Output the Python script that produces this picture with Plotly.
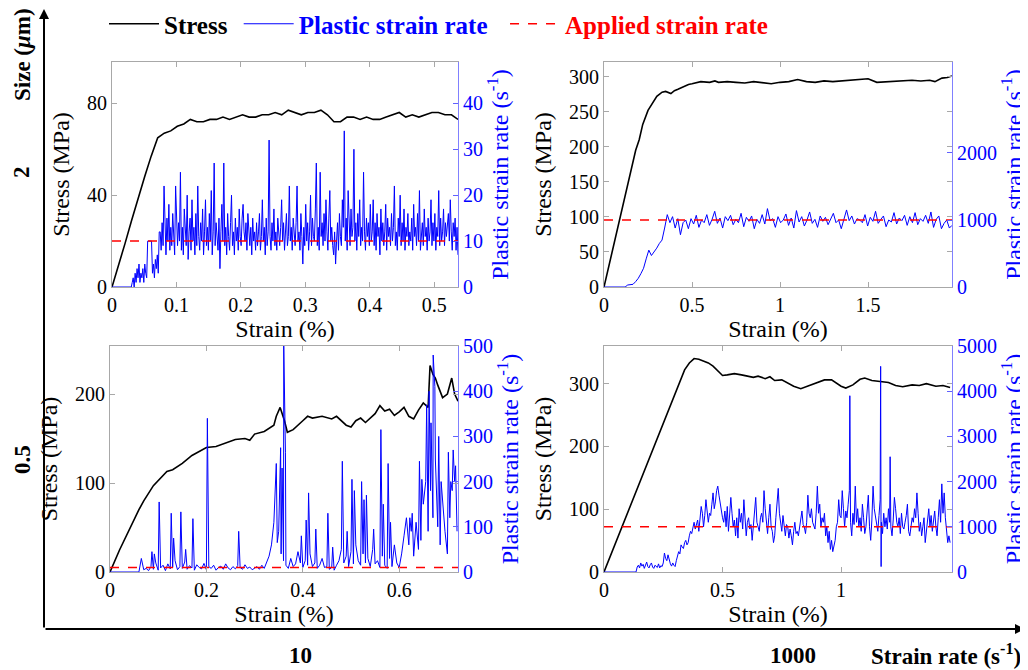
import numpy as np
import plotly.graph_objects as go

# ---------------- data ----------------
applied_rates = [10, 1000]          # s^-1 : left column, right column

# Top-left: size 2 um, 10 s^-1
tl_stress = [0, 9, 19, 29, 39, 48, 57, 65, 67, 68, 70, 71, 73, 72, 72, 73, 73, 74, 73, 74,
             75, 74, 74, 75, 75, 76, 75, 77, 76, 75, 76, 76, 77, 75, 72, 72, 74, 74, 73, 74,
             73, 73, 74, 75, 76, 74, 75, 74, 75, 76, 76, 75, 75, 73]
tl_rate = [0] * 21 + [
    1, 2, 0, 3, 1, 4, 2, 5, 1, 3, 2, 4, 1, 5, 3, 2, 10, 10, 10, 10, 10, 3, 5, 2, 6, 4, 7, 3, 12,
    12, 8, 14, 9, 22, 11, 7, 15, 10, 18, 8, 13, 9, 16, 11, 7, 22, 12, 9, 14,
    10, 25, 8, 13, 7, 17, 11, 9, 20, 6, 12, 15, 8, 19, 10, 13, 7, 16, 9, 22,
    11, 8, 14, 10, 17, 7, 12, 19, 9, 13, 8, 16, 10, 21, 7, 12, 27, 9, 14, 11,
    8, 15, 4, 12, 18, 10, 27, 9, 13, 7, 16, 11, 8, 14, 20, 9, 12, 7, 15, 10,
    13, 8, 17, 11, 9, 15, 18, 12, 10, 14, 8, 16, 11, 9, 13, 7, 15, 10, 12, 8,
    14, 9, 12, 16, 8, 11, 19, 10, 13, 7, 15, 9, 12, 32, 11, 8, 14, 10, 17, 9,
    12, 8, 15, 11, 9, 13, 19, 10, 14, 8, 12, 16, 9, 11, 22, 10, 13, 8, 15, 11,
    9, 14, 22, 10, 12, 8, 16, 11, 5, 13, 9, 18, 10, 14, 8, 12, 20, 9, 15, 11,
    10, 17, 27, 9, 13, 8, 25, 11, 14, 9, 16, 10, 19, 12, 8, 15, 21, 10, 13, 9,
    7, 12, 5, 10, 14, 8, 16, 11, 9, 19, 13, 34, 10, 15, 8, 21, 12, 9, 17, 11,
    13, 30, 10, 14, 8, 16, 11, 19, 9, 13, 10, 25, 12, 8, 15, 11, 14, 9, 18, 10,
    12, 19, 9, 14, 8, 16, 11, 13, 7, 17, 10, 14, 9, 12, 18, 8, 15, 11, 13, 9,
    16, 10, 13, 22, 9, 12, 8, 15, 11, 20, 9, 14, 10, 17, 8, 13, 11, 16, 9, 12,
    10, 15, 8, 18, 11, 13, 9, 16, 10, 21, 8, 12, 14, 9, 17, 11, 13, 8, 15, 10,
    12, 19, 9, 14, 10, 16, 8, 13, 11, 21, 9, 15, 10, 12, 17, 9, 14, 11, 13, 16,
    10, 19, 12, 8, 14, 11, 15, 8, 13, 7]
tl_strain_max = 0.537

# Top-right: size 2 um, 1000 s^-1
tr_stress_x = [0, 0.05, 0.1, 0.15, 0.18, 0.2, 0.22, 0.25, 0.28, 0.3, 0.33, 0.35, 0.38, 0.4, 0.42,
               0.45, 0.48, 0.5, 0.55, 0.6, 0.63, 0.65, 0.7, 0.75, 0.8, 0.85, 0.9, 0.95, 1.0, 1.05,
               1.1, 1.15, 1.2, 1.25, 1.3, 1.35, 1.4, 1.45, 1.5, 1.55, 1.6, 1.65, 1.7, 1.75, 1.8,
               1.85, 1.88, 1.92, 1.95, 1.977]
tr_stress = [0, 55, 110, 165, 195, 210, 232, 252, 265, 272, 278, 279, 276, 280, 282,
             286, 289, 290, 293, 292, 294, 292, 293, 292, 291, 293, 292, 290, 292, 293,
             296, 293, 292, 294, 293, 294, 295, 297, 297, 292, 293, 294, 295, 295, 294,
             295, 293, 298, 299, 301]
tr_rate = [0, 0, 0, 0, 0, 0, 0, 0, 0, 30, 30, 40,
           80, 130, 200, 280, 420, 550, 470, 520, 580, 650, 700, 880, 1080, 960, 1050, 880,
           1020, 780, 960, 1000, 870,
           1020, 940, 1070, 890, 1000, 960, 1080, 920, 1010, 1130, 950, 1030, 880, 1050, 990,
           1070, 930, 1010, 960, 1100,
           900, 1040, 980, 1060, 870, 1010, 950, 1080, 940, 1170, 990, 1020, 890, 1050, 960,
           1000, 1090, 920, 1030, 880,
           1140, 970, 1050, 910, 1000, 1120, 950, 1010, 890, 1060, 980, 1040, 930, 1010, 1100,
           960, 1000, 870, 1030, 1150,
           990, 1060, 940, 1020, 1000, 960, 1080, 910, 1040, 980, 1130, 950, 1010, 1060, 900,
           1000, 970, 1110, 940, 1030,
           990, 1070, 920, 1050, 960, 1110, 930, 1020, 980, 1070, 950, 1120, 890, 1010, 1060,
           870, 950, 1000, 880, 920]
tr_strain_max = 1.977

# Bottom-left: size 0.5 um, 10 s^-1
bl_stress_x = [0, 0.02, 0.06, 0.07, 0.09, 0.1, 0.118, 0.13, 0.15, 0.17, 0.18, 0.2, 0.22, 0.24,
               0.26, 0.28, 0.29, 0.3, 0.32, 0.34, 0.345, 0.353, 0.362, 0.368, 0.38, 0.4, 0.41,
               0.42, 0.44, 0.46, 0.47, 0.49, 0.5, 0.51, 0.52, 0.53, 0.55, 0.56, 0.57, 0.58,
               0.59, 0.6, 0.61, 0.62, 0.63, 0.64, 0.65, 0.66, 0.664, 0.67, 0.675, 0.68, 0.69,
               0.7, 0.709, 0.715, 0.722]
bl_stress = [0, 25, 70, 80, 97, 103, 113, 115, 122, 131, 134, 140, 141, 145,
             149, 150, 148, 155, 158, 165, 175, 185, 170, 157, 160, 170, 175,
             173, 175, 172, 175, 165, 163, 170, 173, 168, 178, 187, 181, 183,
             176, 180, 185, 175, 172, 182, 190, 185, 232, 222, 218, 210, 196,
             200, 218, 200, 192]
bl_rate = [0, 0, 0, 0, 0, 0, 0, 0, 0, 0, 0, 0, 0,
           30, 5, 8, 3, 12, 6, 20, 4, 9, 15, 3, 18, 7, 10, 25, 5, 12, 8, 22, 6, 14, 9, 4, 16,
           10, 7, 19, 5, 12, 8, 15, 4, 10, 13, 6, 18, 9, 5, 12, 7, 14, 10, 6, 16, 8, 11, 5, 9,
           12, 6, 15, 8, 20, 35, 60, 110, 240, 90, 40, 25, 15, 8, 30, 12, 18, 45, 20, 10, 25,
           15, 40, 12, 20, 8, 15, 30, 10, 12,
           6, 10, 4, 15, 25, 50, 20, 35, 12, 45, 18, 60, 25, 15, 40, 20, 30, 12, 50, 18, 25,
           10, 35, 15, 8, 30, 12, 60, 20, 10,
           40, 80, 120, 60, 90, 35, 110, 50, 70, 150, 200, 90, 180, 120, 250, 100, 60, 150,
           90, 40, 120, 180, 200, 90]
bl_spike_x = [0.087, 0.092, 0.102, 0.127, 0.132, 0.147, 0.157, 0.172, 0.202, 0.267, 0.337,
              0.347, 0.354, 0.357, 0.3605, 0.364, 0.397, 0.407, 0.412, 0.427, 0.452, 0.462,
              0.482, 0.492, 0.502, 0.507, 0.522, 0.527, 0.532, 0.547, 0.562, 0.567, 0.577,
              0.582, 0.612, 0.622, 0.627, 0.642, 0.647, 0.657, 0.662, 0.666, 0.6705, 0.674,
              0.682, 0.687, 0.692, 0.702, 0.707, 0.712, 0.717]
bl_spike_y = [45, 40, 155, 130, 75, 133, 50, 118, 340, 90, 80,
              65, 275, 230, 500, 265, 80, 115, 175, 95, 130, 55,
              245, 90, 205, 180, 200, 160, 170, 95, 315, 150, 240,
              110, 95, 120, 130, 245, 205, 370, 400, 330, 480, 410,
              300, 200, 130, 265, 200, 270, 235]
bl_strain_max = 0.722

# Bottom-right: size 0.5 um, 1000 s^-1
br_stress_x = [0, 0.05, 0.1, 0.15, 0.2, 0.25, 0.3, 0.34, 0.36, 0.38, 0.4, 0.42, 0.44, 0.46,
               0.48, 0.5, 0.52, 0.55, 0.58, 0.6, 0.63, 0.65, 0.68, 0.7, 0.72, 0.75, 0.78, 0.8,
               0.83, 0.86, 0.9, 0.93, 0.96, 1.0, 1.02, 1.05, 1.08, 1.1, 1.13, 1.16, 1.2, 1.23,
               1.26, 1.3, 1.33, 1.36, 1.4, 1.43, 1.46]
br_stress = [0, 47, 95, 142, 190, 237, 283, 322, 333, 340, 339, 336, 333, 328,
             320, 313, 314, 316, 314, 312, 310, 312, 308, 311, 305, 306, 300, 296,
             292, 296, 302, 306, 306, 296, 293, 298, 307, 309, 305, 304, 302, 297,
             295, 298, 297, 300, 296, 297, 294]
br_rate = [0] * 28 + [
    110, 150, 90, 200, 130, 170, 80, 140, 220, 120, 90, 160, 200, 110, 80, 150, 130,
    100, 180, 90, 140, 120, 200, 420, 300, 250, 380, 260, 180, 130, 200, 150, 120,
    250, 350, 450, 400, 600, 550, 520, 650, 700, 600, 650, 800, 900, 850, 1000,
    1100, 950, 1050, 1150, 900, 1200, 1450, 1300, 1000, 1250, 1600, 1350, 1100, 1300, 1250,
    1500, 1750, 1400, 1550, 1800, 1900, 1700, 1500, 1300, 1200,
    1100, 1350, 1000, 1450, 900, 1200, 1650, 1300, 1000, 1150, 800, 1200, 750, 1400, 1100, 1300,
    950, 1600, 1200, 800, 1100, 1200, 950, 1050, 700, 1000, 1350, 1650, 1100, 1000, 900, 1200,
    1300, 1100, 1800, 1400, 1100, 850, 1200, 1500, 1000, 900, 650, 800, 1200, 1600, 1850, 1300,
    1050, 900, 1250, 1000, 800, 1050, 1000, 750, 950, 800, 600, 900, 1100, 850, 900, 800,
    1000, 1150, 1350, 1050, 1000, 850, 1100, 1700, 1300, 1200, 1400, 1100, 1000, 950, 1300, 1900,
    1300, 1500, 1000, 1200, 1100, 1300, 800, 1000, 650, 900, 500, 700, 450, 600, 700, 1000,
    1100, 1600, 1250, 1200, 1800, 1400, 1000, 1350, 1200, 1500, 1800, 1100, 800, 1300, 1050, 1900,
    1100, 1400, 1000, 1200, 900, 1500, 1200, 850, 1000, 1300, 1700, 1000, 700, 1150, 1900, 1400,
    1200, 1000, 900, 1250, 1600, 1100, 850, 1300, 1000, 1200, 950, 1400, 1100, 1000, 800, 1150,
    1650, 1400, 1100, 1000, 1200, 850, 1300, 1000, 950, 1100, 1250, 1500, 900, 800, 1000, 1200,
    1100, 1400, 1200, 1750, 1300, 900, 1100, 800, 1000, 1200, 650, 900, 1100, 1400, 1000, 1250,
    900, 1150, 1350, 1000, 800, 1200, 1600, 1100, 1950, 1300, 1750, 1200, 900, 650, 800, 650]
br_spike_x = [1.037, 1.167, 1.169, 1.207]
br_spike_y = [3900, 4550, 120, 2550]
br_strain_max = 1.468

# ---------------- helpers ----------------
# The page body has an 8px margin; lay everything out in reference pixel coords.
OFF = 8
W, H = 1028 - OFF, 670 - OFF
def px(x): return (x - OFF) / W
def py(y): return 1 - (y - OFF) / H

def merge(xb, yb, xs, ys):
    pts = sorted(list(zip(xb, yb)) + list(zip(xs, ys)), key=lambda p: p[0])
    return [p[0] for p in pts], [p[1] for p in pts]

tl_sx = np.linspace(0, tl_strain_max, len(tl_stress))
tl_rx = np.linspace(0, tl_strain_max, len(tl_rate))
tr_rx = np.linspace(0, tr_strain_max, len(tr_rate))
bl_rx0 = np.linspace(0, 0.72, len(bl_rate))
bl_rx, bl_ry = merge(bl_rx0, bl_rate, bl_spike_x, bl_spike_y)
br_rx0 = np.linspace(0, 1.46, len(br_rate))
br_rx, br_ry = merge(br_rx0, br_rate, br_spike_x, br_spike_y)

panels = [
    dict(sx=tl_sx, sy=tl_stress, rx=tl_rx, ry=tl_rate, app=applied_rates[0], xmax=tl_strain_max,
         xd=(112, 458), yd=(62, 287), yr=[0, 98], y2r=[0, 49],
         xt=[0, 0.1, 0.2, 0.3, 0.4, 0.5], yt=[0, 40, 80], y2t=[0, 10, 20, 30, 40]),
    dict(sx=tr_stress_x, sy=tr_stress, rx=tr_rx, ry=tr_rate, app=applied_rates[1], xmax=tr_strain_max,
         xd=(604, 952), yd=(62, 287), yr=[0, 321], y2r=[0, 3358],
         xt=[0, 0.5, 1, 1.5], yt=[0, 50, 100, 150, 200, 250, 300], y2t=[0, 1000, 2000]),
    dict(sx=bl_stress_x, sy=bl_stress, rx=bl_rx, ry=bl_ry, app=applied_rates[0], xmax=bl_strain_max,
         xd=(110, 458), yd=(346, 572), yr=[0, 254], y2r=[0, 500],
         xt=[0, 0.2, 0.4, 0.6], yt=[0, 100, 200], y2t=[0, 100, 200, 300, 400, 500]),
    dict(sx=br_stress_x, sy=br_stress, rx=br_rx, ry=br_ry, app=applied_rates[1], xmax=br_strain_max,
         xd=(604, 952), yd=(346, 572), yr=[0, 360], y2r=[0, 5000],
         xt=[0, 0.5, 1], yt=[0, 100, 200, 300], y2t=[0, 1000, 2000, 3000, 4000, 5000]),
]

FONT = "Liberation Serif, Times New Roman, serif"
BLUE = "#0000ff"
RED = "#ff0000"
FRAME = "#a8a8a8"
NB = "\u00a0"

fig = go.Figure()
layout = {}
for i, p in enumerate(panels):
    xa = f"x{i+1}" if i else "x"
    ya = f"y{2*i+1}" if i else "y"
    y2 = f"y{2*i+2}"
    first = (i == 0)
    fig.add_trace(go.Scatter(x=p["sx"], y=p["sy"], xaxis=xa, yaxis=ya, mode="lines",
                             line=dict(color="black", width=1.6),
                             name="<b>Stress</b>" + NB, showlegend=first, legendrank=1))
    fig.add_trace(go.Scatter(x=p["rx"], y=p["ry"], xaxis=xa, yaxis=y2, mode="lines",
                             line=dict(color=BLUE, width=1),
                             name=f"<span style='color:{BLUE}'><b>Plastic strain rate</b></span>" + NB * 2,
                             showlegend=first, legendrank=2))
    fig.add_trace(go.Scatter(x=[0, p["xmax"]], y=[p["app"], p["app"]], xaxis=xa, yaxis=y2,
                             mode="lines", line=dict(color=RED, width=1.5, dash="dash"),
                             name=f"<span style='color:{RED}'><b>Applied strain rate</b></span>",
                             showlegend=first, legendrank=3))

    kx = "xaxis" + (str(i+1) if i else "")
    ky = "yaxis" + (str(2*i+1) if i else "")
    ky2 = "yaxis" + str(2*i+2)
    layout[kx] = dict(domain=[px(p["xd"][0]), px(p["xd"][1])], anchor=ya, range=[0, p["xmax"]],
                      tickvals=p["xt"], ticks="inside", ticklen=5, tickcolor=FRAME,
                      showline=True, linecolor=FRAME, linewidth=1, mirror="ticks",
                      showgrid=False, zeroline=False, automargin=False,
                      tickfont=dict(family=FONT, size=20, color="black"),
                      title=dict(text="Strain (%)", font=dict(family=FONT, size=24, color="black"),
                                 standoff=0))
    layout[ky] = dict(domain=[py(p["yd"][1]), py(p["yd"][0])], anchor=xa, range=p["yr"],
                      tickvals=p["yt"], ticks="inside", ticklen=5, tickcolor=FRAME,
                      showline=True, linecolor=FRAME, linewidth=1, mirror="ticks",
                      showgrid=False, zeroline=False, automargin=False,
                      tickfont=dict(family=FONT, size=20, color="black"),
                      title=dict(text="Stress (MPa)", font=dict(family=FONT, size=24, color="black"),
                                 standoff=10))
    layout[ky2] = dict(overlaying=ya, anchor=xa, side="right", range=p["y2r"],
                       tickvals=p["y2t"], ticks="inside", ticklen=5, tickcolor="#6060ff",
                       showline=True, linecolor="#8080ff", linewidth=1,
                       showgrid=False, zeroline=False, automargin=False,
                       tickfont=dict(family=FONT, size=20, color=BLUE),
                       title=dict(text="Plastic strain rate (s<sup>-1</sup>)",
                                  font=dict(family=FONT, size=24, color=BLUE), standoff=2))

annotations = [
    # axis arrows
    dict(x=px(44), y=py(8), xref="paper", yref="paper", ax=0, ay=621, text="",
         showarrow=True, arrowhead=2, arrowsize=1, arrowwidth=2, arrowcolor="black"),
    dict(x=px(1025), y=py(629), xref="paper", yref="paper", ax=-981, ay=0, text="",
         showarrow=True, arrowhead=2, arrowsize=1, arrowwidth=2, arrowcolor="black"),
    dict(x=px(22), y=py(55), text="<b>Size (<i>μ</i>m)</b>", textangle=-90),
    dict(x=px(22), y=py(172), text="<b>2</b>", textangle=-90),
    dict(x=px(22), y=py(460), text="<b>0.5</b>", textangle=-90),
    dict(x=px(300), y=py(655), text="<b>10</b>"),
    dict(x=px(793), y=py(655), text="<b>1000</b>"),
    dict(x=px(946), y=py(654), text="<b>Strain rate (s<sup>-1</sup>)</b>"),
]
for a in annotations[2:]:
    a.update(xref="paper", yref="paper", showarrow=False, xanchor="center", yanchor="middle",
             font=dict(family=FONT, size=23, color="black"))

fig.update_layout(
    width=W, height=H, margin=dict(l=0, r=0, t=0, b=0, autoexpand=False),
    font=dict(family=FONT),
    paper_bgcolor="white", plot_bgcolor="white",
    legend=dict(orientation="h", x=px(104), y=py(1), xanchor="left", yanchor="top",
                font=dict(family=FONT, size=25, color="black"), bgcolor="rgba(0,0,0,0)",
                itemwidth=50, tracegroupgap=0),
    annotations=annotations,
    **layout,
)
fig.write_html("out.html")
